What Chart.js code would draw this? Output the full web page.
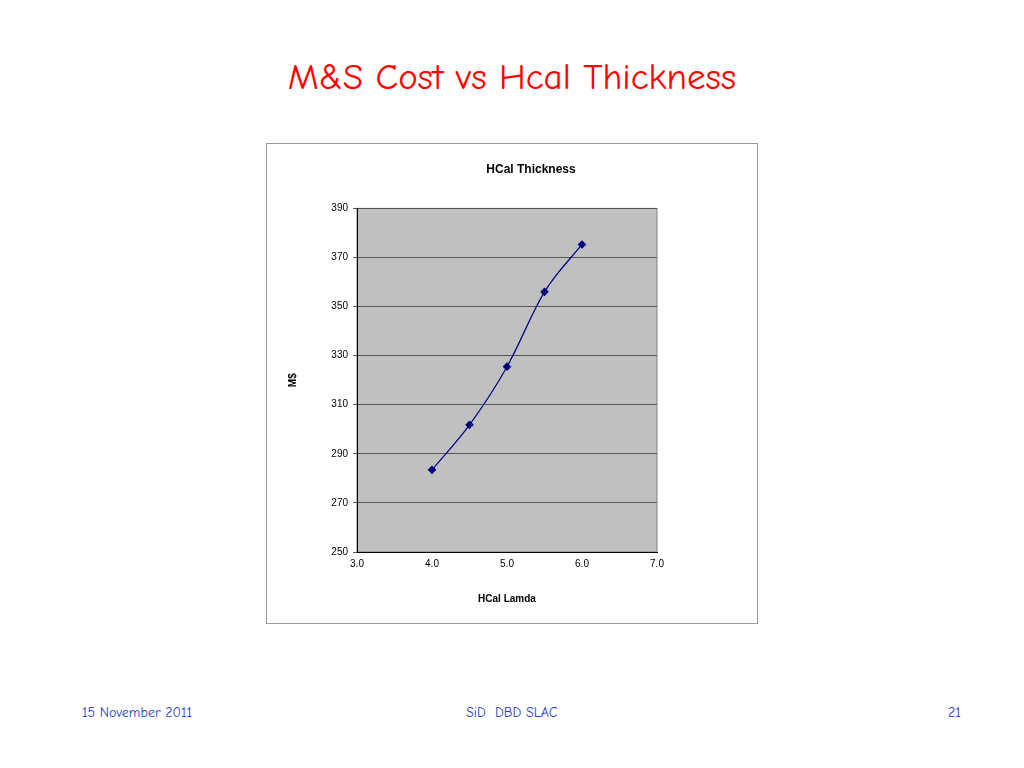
<!DOCTYPE html>
<html><head><meta charset="utf-8">
<script src="https://cdn.jsdelivr.net/npm/chart.js@4"></script>
<style>
body{margin:0;width:1024px;height:768px;background:#fff;position:relative;font-family:"Liberation Sans",Arial,sans-serif;}
#title{position:absolute;top:56px;left:0;width:1024px;text-align:center;color:#ff0000;font-family:"Comic Neue","Comic Sans MS","Open Sans",sans-serif;font-size:37px;}
.foot{position:absolute;top:704px;color:#1f3fbf;font-size:14px;font-family:"Comic Neue","Comic Sans MS","Open Sans",sans-serif;}
#box{position:absolute;left:266px;top:143px;width:490px;height:479px;border:1px solid #999;}
</style></head><body>
<div id="title">M&amp;S Cost vs Hcal Thickness</div>
<div id="box"><canvas id="c" width="490" height="479"></canvas></div>
<div class="foot" style="left:82px">15 November 2011</div>
<div class="foot" style="left:466px">SiD &nbsp;DBD SLAC</div>
<div class="foot" style="left:948px">21</div>
<script>
const lamda=[4.0,4.5,5.0,5.5,6.0];
const cost=[283.5,301.8,325.5,356,375.3];
const chartTitle='HCal Thickness';
const bg={id:'bg',beforeDraw(ch){const a=ch.chartArea,c=ch.ctx;c.save();c.fillStyle='#c0c0c0';c.fillRect(a.left,a.top,a.right-a.left,a.bottom-a.top);c.strokeStyle='#808080';c.strokeRect(a.left,a.top,a.right-a.left,a.bottom-a.top);c.restore();},
afterDraw(ch){const c=ch.ctx;c.save();c.fillStyle='#000';c.font='bold 12px "Liberation Sans"';c.textAlign='center';c.textBaseline='middle';c.fillText(chartTitle,264,26);c.restore();}};
new Chart(document.getElementById('c'),{type:'scatter',
data:{datasets:[{data:lamda.map((x,i)=>({x,y:cost[i]})),showLine:true,cubicInterpolationMode:'monotone',borderColor:'#000080',backgroundColor:'#000080',borderWidth:1.2,pointStyle:'rectRot',pointRadius:3.5}]},
options:{responsive:false,animation:false,
layout:{padding:{left:0,right:100,top:0,bottom:0}},
plugins:{legend:{display:false},tooltip:{enabled:false},
title:{display:true,text:chartTitle,color:'rgba(0,0,0,0)',font:{size:12,weight:'bold',family:'Liberation Sans'},padding:{top:18,bottom:32}}},
scales:{
x:{min:3,max:7,ticks:{stepSize:1,callback:v=>v.toFixed(1),color:'#000',font:{size:10,family:'Liberation Sans'},padding:2},
grid:{display:false,drawTicks:true,tickLength:4,color:'#000'},border:{color:'#000'},
title:{display:true,text:'HCal Lamda',color:'#000',font:{size:10,weight:'bold',family:'Liberation Sans'},padding:{top:0,bottom:18}},
afterFit(s){s.height=71;}},
y:{min:250,max:390,ticks:{stepSize:20,color:'#000',font:{size:10,family:'Liberation Sans'},padding:5},
grid:{color:'#555',tickLength:4},border:{color:'#000'},
title:{display:true,text:'M$',color:'#000',font:{size:10,weight:'bold',family:'Liberation Sans'},padding:{top:20}},
afterFit(s){s.width=90;}}}},
plugins:[bg]});
</script></body></html>
